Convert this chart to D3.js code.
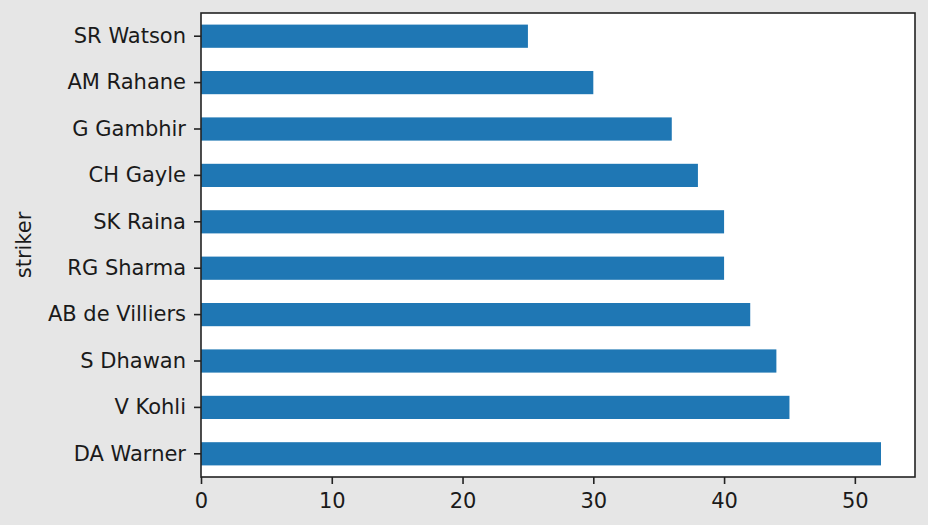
<!DOCTYPE html>
<html>
<head>
<meta charset="utf-8">
<script src="https://cdn.jsdelivr.net/npm/d3@7"></script>
<style>
  html, body { margin: 0; padding: 0; background: #e6e6e6; }
  svg { display: block; }
  text { font-family: "DejaVu Sans", sans-serif; fill: #1a1a1a; }
</style>
</head>
<body>
<script>
const strikers = ["SR Watson", "AM Rahane", "G Gambhir", "CH Gayle", "SK Raina",
                  "RG Sharma", "AB de Villiers", "S Dhawan", "V Kohli", "DA Warner"];
const counts = [25, 30, 36, 38, 40, 40, 42, 44, 45, 52];
const xTicks = [0, 10, 20, 30, 40, 50];
const yLabel = "striker";

const W = 928, H = 525;
const m = { left: 201, right: 928 - 915, top: 13, bottom: 525 - 477 };
const iw = W - m.left - m.right, ih = H - m.top - m.bottom;
const fs = 21;

const svg = d3.select("body").append("svg").attr("width", W).attr("height", H);
svg.append("rect").attr("width", W).attr("height", H).attr("fill", "#e6e6e6");

const g = svg.append("g").attr("transform", `translate(${m.left},${m.top})`);
g.append("rect").attr("width", iw).attr("height", ih).attr("fill", "#fff");

const x = d3.scaleLinear().domain([0, d3.max(counts) * 1.05]).range([0, iw]);
const y = d3.scaleBand().domain(strikers).range([0, ih]).paddingInner(0.5).paddingOuter(0.25);

g.selectAll("rect.bar").data(strikers).join("rect")
  .attr("class", "bar")
  .attr("x", x(0))
  .attr("y", d => y(d))
  .attr("width", (d, i) => x(counts[i]) - x(0))
  .attr("height", y.bandwidth())
  .attr("fill", "#1f77b4");

const xAxis = g.append("g").attr("transform", `translate(0,${ih})`)
  .call(d3.axisBottom(x).tickValues(xTicks).tickFormat(d3.format("d")).tickSize(7).tickPadding(9));
const yAxis = g.append("g")
  .call(d3.axisLeft(y).tickSize(7).tickPadding(8));

[xAxis, yAxis].forEach(a => {
  a.select(".domain").remove();
  a.selectAll(".tick line").attr("stroke", "#222").attr("stroke-width", 1.6);
  a.selectAll(".tick text").style("font-family", "DejaVu Sans").style("font-size", fs + "px").attr("fill", "#1a1a1a");
});

g.append("rect").attr("width", iw).attr("height", ih)
  .attr("fill", "none").attr("stroke", "#222").attr("stroke-width", 1.6);

svg.append("text")
  .attr("transform", `translate(24,${m.top + ih / 2}) rotate(-90)`)
  .attr("text-anchor", "middle")
  .attr("dominant-baseline", "central")
  .style("font-size", fs + "px")
  .text(yLabel);
</script>
</body>
</html>
